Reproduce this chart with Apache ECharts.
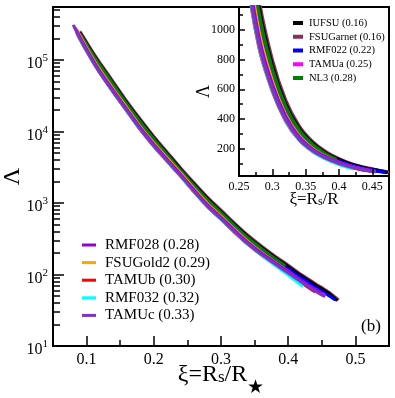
<!DOCTYPE html>
<html><head><meta charset="utf-8">
<script src="https://cdn.jsdelivr.net/npm/echarts@6/dist/echarts.min.js"></script>
<style>html,body{margin:0;padding:0;background:#fff}#c{width:395px;height:398px}</style>
</head><body><div id="c"></div>
<script>
const FONT = '"Liberation Serif", "Times New Roman", serif';

// ---- data: [xi, Lambda] ----
const fsuGarnet = [[0.09,251000],[0.10,178000],[0.11,126000],[0.12,91200],[0.14,49000],[0.16,26300],[0.18,14800],[0.20,8510],[0.22,5130],[0.24,3090],[0.26,1910],[0.28,1200],[0.30,795],[0.32,525],[0.34,355],[0.36,251],[0.38,182],[0.40,135],[0.42,99],[0.44,75],[0.46,57],[0.475,44]];
const iufsu = [[0.09,240000],[0.10,170000],[0.11,120000],[0.12,87100],[0.14,46800],[0.16,25100],[0.18,14100],[0.20,8130],[0.22,4900],[0.24,2950],[0.26,1820],[0.28,1150],[0.30,759],[0.32,501],[0.34,339],[0.36,240],[0.38,174],[0.40,129],[0.42,95],[0.44,72],[0.46,55],[0.473,43]];
const rmf022 = [[0.09,224000],[0.10,159000],[0.11,112000],[0.12,81300],[0.14,43700],[0.16,23400],[0.18,13200],[0.20,7590],[0.22,4570],[0.24,2750],[0.26,1700],[0.28,1070],[0.30,708],[0.32,468],[0.34,316],[0.36,224],[0.38,162],[0.40,120],[0.42,89],[0.44,67],[0.46,51],[0.47,44]];
const nl3 = [[0.09,232000],[0.10,164000],[0.11,116000],[0.12,84100],[0.14,45200],[0.16,24200],[0.18,13600],[0.20,7850],[0.22,4730],[0.24,2850],[0.26,1760],[0.28,1110],[0.30,733],[0.32,484],[0.34,327],[0.36,232],[0.38,168],[0.396,132]];
const fsuGold2 = [[0.085,272000],[0.09,220000],[0.10,148000],[0.11,102000],[0.12,72500],[0.14,38900],[0.16,21400],[0.18,11700],[0.20,6900],[0.22,4250],[0.24,2620],[0.26,1580],[0.28,985],[0.30,655],[0.32,430],[0.34,290],[0.36,205],[0.38,150],[0.40,110],[0.42,80],[0.44,59],[0.451,51]];
const tamub = [[0.085,242000],[0.09,195000],[0.10,132000],[0.11,91200],[0.12,64600],[0.14,34700],[0.16,19100],[0.18,10500],[0.20,6170],[0.22,3800],[0.24,2340],[0.26,1420],[0.28,881],[0.30,589],[0.32,389],[0.34,263],[0.36,187],[0.38,138],[0.40,102],[0.42,76],[0.44,57]];
const tamua = [[0.085,258000],[0.09,209000],[0.10,141000],[0.11,97700],[0.12,69200],[0.14,37200],[0.16,20400],[0.18,11200],[0.20,6610],[0.22,4070],[0.24,2510],[0.26,1520],[0.28,944],[0.30,631],[0.32,417],[0.34,282],[0.36,200],[0.38,148],[0.40,110],[0.42,82],[0.44,62],[0.455,51]];
const rmf032 = [[0.085,245000],[0.09,198000],[0.10,134000],[0.11,92300],[0.12,65400],[0.14,35100],[0.16,19300],[0.18,10600],[0.20,6240],[0.22,3850],[0.24,2370],[0.26,1430],[0.28,892],[0.30,596],[0.32,393],[0.34,265],[0.36,187],[0.38,136],[0.40,98],[0.422,68]];
const rmf028 = [[0.082,290000],[0.09,207000],[0.10,140000],[0.11,96600],[0.12,68400],[0.14,36700],[0.16,20200],[0.18,11100],[0.20,6530],[0.22,4030],[0.24,2480],[0.26,1500],[0.28,934],[0.30,624],[0.32,412],[0.34,278],[0.36,198],[0.38,146],[0.40,109],[0.42,81],[0.44,61],[0.45,54]];
const tamuc = [[0.08,309000],[0.09,200000],[0.10,135000],[0.11,93300],[0.12,66100],[0.14,35500],[0.16,19500],[0.18,10700],[0.20,6310],[0.22,3890],[0.24,2400],[0.26,1450],[0.28,902],[0.30,603],[0.32,398],[0.34,269],[0.36,191],[0.38,141],[0.40,105],[0.42,78],[0.44,59],[0.455,49]];

// ---- tick values ----
const mainXTicks = [0.1,0.2,0.3,0.4,0.5];
const mainXMinor = [0.15,0.25,0.35,0.45];
const mainYMajor = [10,100,1000,10000,100000];
const mainYMinor = [20,30,40,50,60,70,80,90,200,300,400,500,600,700,800,900,2000,3000,4000,5000,6000,7000,8000,9000,20000,30000,40000,50000,60000,70000,80000,90000,200000,300000,400000,500000];
const insetXLabels = [0.25,0.3,0.35,0.4,0.45];
const insetXTicks = [0.3,0.35,0.4,0.45];
const insetXMinor = [0.275,0.325,0.375,0.425];
const insetYTicks = [200,400,600,800,1000];
const insetYMinor = [100,300,500,700,900,1100];

const mainLegend = ['RMF028 (0.28)','FSUGold2 (0.29)','TAMUb (0.30)','RMF032 (0.32)','TAMUc (0.33)'];
const insetLegend = ['IUFSU (0.16)','FSUGarnet (0.16)','RMF022 (0.22)','TAMUa (0.25)','NL3 (0.28)'];

const models = [
  {name:'FSUGarnet (0.16)', color:'#8b2f5a', data:fsuGarnet},
  {name:'IUFSU (0.16)', color:'#000000', data:iufsu},
  {name:'RMF022 (0.22)', color:'#0000ff', data:rmf022},
  {name:'NL3 (0.28)', color:'#008000', data:nl3},
  {name:'FSUGold2 (0.29)', color:'#ffa500', data:fsuGold2},
  {name:'TAMUb (0.30)', color:'#ff0000', data:tamub},
  {name:'TAMUa (0.25)', color:'#ff00ff', data:tamua},
  {name:'RMF032 (0.32)', color:'#00ffff', data:rmf032},
  {name:'RMF028 (0.28)', color:'#9400d3', data:rmf028},
  {name:'TAMUc (0.33)', color:'#7b35c3', data:tamuc}
];

const LMIN = 10, LMAX = 550000;
const series = [];
models.forEach(m => series.push({
  type:'line', name:m.name, data:m.data, xAxisIndex:0, yAxisIndex:0,
  showSymbol:false, smooth:0.3, silent:true, z:2,
  lineStyle:{width:3, color:m.color}, itemStyle:{color:m.color}
}));
models.forEach(m => series.push({
  type:'line', name:m.name, data:m.data.filter(p => p[0] >= 0.22), xAxisIndex:2, yAxisIndex:2,
  showSymbol:false, smooth:0.3, silent:true, z:11,
  lineStyle:{width:3.5, color:m.color}, itemStyle:{color:m.color}
}));

const black = '#000';
const empty = () => '';
function minorAxis(type, grid, min, max, pos, len, vals, z) {
  return {type:type, gridIndex:grid, min:min, max:max, position:pos, z:z,
    axisLine:{show:false}, splitLine:{show:false},
    axisLabel:{show:true, customValues:vals, formatter:empty},
    axisTick:{show:true, inside:true, length:len, lineStyle:{color:black, width:1.5}, customValues:vals}};
}
const option = {
  animation:false,
  backgroundColor:'#fff',
  textStyle:{fontFamily:FONT},
  title:{text:'(b)', left:356, top:313, textStyle:{fontFamily:FONT, fontSize:17, fontWeight:'normal', color:black}},
  grid:[
    {left:53, top:7, right:6, bottom:52, show:true, borderColor:black, borderWidth:2, backgroundColor:'transparent', outerBoundsMode:'none', containLabel:false},
    {left:239, top:7, right:6, bottom:222, show:true, borderColor:black, borderWidth:2, backgroundColor:'#fff', z:10, outerBoundsMode:'none', containLabel:false}
  ],
  legend:[
    {data:mainLegend, orient:'vertical', left:77, top:232.5, itemWidth:14, itemHeight:3, itemGap:2.6, icon:'rect', selectedMode:false,
     textStyle:{fontFamily:FONT, fontSize:15, color:black, padding:[0,0,0,4]}, z:5},
    {data:insetLegend, orient:'vertical', left:288, top:12.5, itemWidth:10, itemHeight:4, itemGap:2.75, icon:'rect', selectedMode:false,
     textStyle:{fontFamily:FONT, fontSize:10.5, color:black, padding:[0,0,0,1]}, z:20}
  ],
  xAxis:[
    {type:'value', gridIndex:0, min:0.05, max:0.55, position:'bottom',
     name:'{n|ξ=R}{s|s}{n|/R}{t|★}', nameLocation:'middle', nameGap:16.5, nameMoveOverlap:false,
     nameTextStyle:{rich:{
       n:{fontFamily:FONT, fontSize:24, color:black, padding:[0,0,12,0]},
       s:{fontFamily:FONT, fontSize:17, color:black, verticalAlign:'bottom', padding:[0,0,12,0]},
       t:{fontFamily:FONT, fontSize:19, color:black, verticalAlign:'bottom', padding:[0,0,1,0]}
     }},
     axisLine:{lineStyle:{color:black, width:2}},
     axisTick:{inside:true, length:10, lineStyle:{color:black, width:1.5}, customValues:mainXTicks},
     axisLabel:{customValues:mainXTicks, formatter:v => String(v), fontFamily:FONT, fontSize:16, color:black, margin:6},
     splitLine:{show:false}},
    minorAxis('value', 0, 0.05, 0.55, 'bottom', 6, mainXMinor, 0),
    {type:'value', gridIndex:1, min:0.25, max:0.475, position:'bottom', z:12,
     name:'{n|ξ=R}{s|s}{n|/R}', nameLocation:'middle', nameGap:15, nameMoveOverlap:false,
     nameTextStyle:{rich:{
       n:{fontFamily:FONT, fontSize:17, color:black},
       s:{fontFamily:FONT, fontSize:12, color:black, verticalAlign:'bottom'}
     }},
     axisLine:{lineStyle:{color:black, width:2}},
     axisTick:{inside:true, length:7, lineStyle:{color:black, width:1.5}, customValues:insetXTicks},
     axisLabel:{customValues:insetXLabels, formatter:v => String(v), fontFamily:FONT, fontSize:12, color:black, margin:5},
     splitLine:{show:false}},
    minorAxis('value', 1, 0.25, 0.475, 'bottom', 4, insetXMinor, 12)
  ],
  yAxis:[
    {type:'log', logBase:10, gridIndex:0, min:LMIN, max:LMAX, position:'left',
     name:'Λ', nameLocation:'middle', nameGap:28, nameMoveOverlap:false, nameTextStyle:{fontFamily:FONT, fontSize:24, color:black},
     axisLine:{lineStyle:{color:black, width:2}},
     axisTick:{inside:true, length:11, lineStyle:{color:black, width:1.5}},
     axisLabel:{fontFamily:FONT, color:black, margin:5, padding:[5,0,0,0],
       formatter:v => {
         const e = Math.round(Math.log10(v));
         return mainYMajor.indexOf(Math.pow(10, e)) >= 0 && Math.abs(Math.log10(v) - e) < 1e-6 ? '{b|10}{s|' + e + '}' : '';
       },
       rich:{b:{fontFamily:FONT, fontSize:16, color:black, padding:[3,0,0,0]},
             s:{fontFamily:FONT, fontSize:11, color:black, verticalAlign:'top'}}},
     splitLine:{show:false}, minorTick:{show:false}},
    minorAxis('value', 0, Math.log10(LMIN), Math.log10(LMAX), 'left', 7, mainYMinor.map(v => Math.log10(v)), 0),
    {type:'value', gridIndex:1, min:20, max:1150, position:'left', z:12,
     name:'Λ', nameLocation:'middle', nameGap:26, nameMoveOverlap:false, nameTextStyle:{fontFamily:FONT, fontSize:18, color:black},
     axisLine:{lineStyle:{color:black, width:2}},
     axisTick:{inside:true, length:6, lineStyle:{color:black, width:1.5}, customValues:insetYTicks},
     axisLabel:{customValues:insetYTicks, formatter:v => String(v), fontFamily:FONT, fontSize:12, color:black, margin:4},
     splitLine:{show:false}},
    minorAxis('value', 1, 20, 1150, 'left', 4, insetYMinor, 12)
  ],
  series:series
};
const chart = echarts.init(document.getElementById('c'), null, {renderer:'canvas'});
chart.setOption(option);
</script></body></html>
